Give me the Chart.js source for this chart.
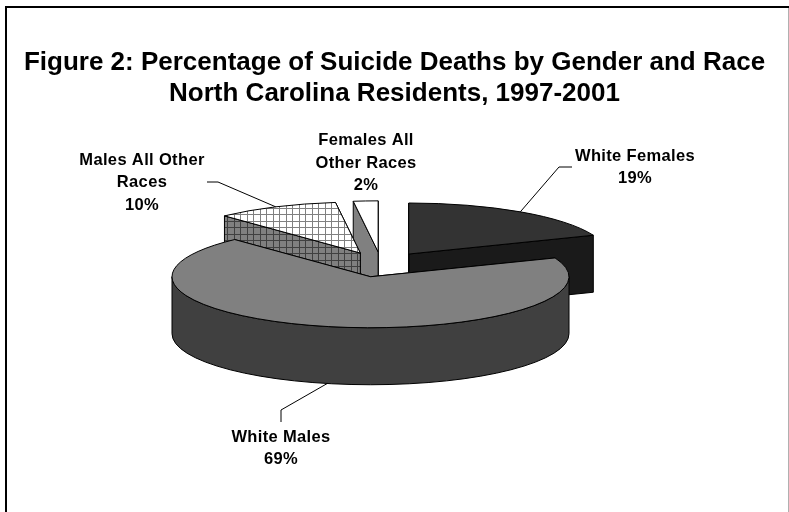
<!DOCTYPE html>
<html>
<head>
<meta charset="utf-8">
<title>Suicide Deaths by Gender and Race</title>
<script src="https://cdn.jsdelivr.net/npm/chart.js@4"></script>
<style>
  html, body { margin: 0; padding: 0; background: #fff; }
  canvas { display: block; }
</style>
</head>
<body>
<canvas id="stage" width="789" height="512"></canvas>
<script>
// data
const categories = ['White Females', 'White Males', 'Males All Other Races', 'Females All Other Races'];
const percents = [19, 69, 10, 2];
const titleLines = ['Figure 2: Percentage of Suicide Deaths by Gender and Race', 'North Carolina Residents, 1997-2001'];
const labelLines = [['White Females'], ['White Males'], ['Males All Other', 'Races'], ['Females All', 'Other Races']];

const FONT = '"Liberation Sans", Arial, sans-serif';

// small square grid used for the "other races" fills
function gridFill(paper, ink) {
  const tile = document.createElement('canvas');
  tile.width = 13;
  tile.height = 13;
  const c = tile.getContext('2d');
  c.fillStyle = paper;
  c.fillRect(0, 0, 13, 13);
  c.fillStyle = ink;
  [0, 6].forEach(function (p) {
    c.fillRect(p, 0, 1, 13);
    c.fillRect(0, p, 13, 1);
  });
  return document.createElement('canvas').getContext('2d').createPattern(tile, 'repeat');
}

const topFills = ['#333333', '#808080', gridFill('#ffffff', '#808080'), '#ffffff'];
const wallFills = ['#1a1a1a', '#404040', gridFill('#808080', '#404040'), '#808080'];

// tilted, exploded pie: reads the arcs the doughnut controller laid out and
// paints them as squashed ellipses with side walls
const pie3d = {
  id: 'pie3d',

  beforeDraw(chart, args, opts) {
    const ctx = chart.ctx;
    ctx.save();
    ctx.fillStyle = '#ffffff';
    ctx.fillRect(0, 0, chart.width, chart.height);
    // page frame, open at the bottom
    ctx.fillStyle = '#000000';
    ctx.fillRect(5, 6, chart.width - 5, 2);
    ctx.fillRect(5, 6, 2, chart.height - 6);
    ctx.fillStyle = '#b0b0b0';
    ctx.fillRect(chart.width - 1, 8, 1, chart.height - 8);
    ctx.restore();
  },

  beforeDatasetsDraw(chart, args, opts) {
    const ctx = chart.ctx;
    const arcs = chart.getDatasetMeta(0).data;

    const slices = arcs.map(function (arc, i) {
      const p = arc.getProps(['x', 'y', 'startAngle', 'endAngle', 'outerRadius']);
      const mid = (p.startAngle + p.endAngle) / 2;
      const r = p.outerRadius;
      return {
        i: i,
        start: p.startAngle,
        end: p.endAngle,
        mid: mid,
        r: r,
        ry: r * opts.tilt,
        cx: p.x + opts.shiftX + Math.cos(mid) * opts.explode,
        cy: p.y + Math.sin(mid) * opts.explode * opts.tilt,
        fill: arc.options.backgroundColor,
        wall: opts.walls[i],
        line: arc.options.borderColor,
        lineWidth: arc.options.borderWidth
      };
    });

    // back slices first
    const order = slices.slice().sort(function (a, b) { return a.cy - b.cy; });
    order.forEach(function (s) { drawSlice(ctx, s, opts.depth); });

    ctx.save();
    ctx.strokeStyle = '#000000';
    ctx.lineWidth = 1;
    slices.forEach(function (s) {
      const elbows = opts.leaders[s.i];
      if (!elbows) return;
      const front = Math.sin(s.mid) > 0;
      ctx.beginPath();
      ctx.moveTo(s.cx + Math.cos(s.mid) * s.r, s.cy + Math.sin(s.mid) * s.ry + (front ? opts.depth : 0));
      elbows.forEach(function (pt) { ctx.lineTo(pt[0], pt[1]); });
      ctx.stroke();
    });

    // labels
    ctx.fillStyle = '#000000';
    ctx.font = 'bold ' + opts.labelSize + 'px ' + FONT;
    ctx.letterSpacing = opts.labelSpacing;
    ctx.textAlign = 'center';
    ctx.textBaseline = 'middle';
    slices.forEach(function (s) {
      const spot = opts.labelSpots[s.i];
      const lines = labelLines[s.i].concat(percents[s.i] + '%');
      lines.forEach(function (text, n) {
        ctx.fillText(text, spot[0], spot[1] + n * opts.labelStep);
      });
    });
    ctx.restore();

    return false; // the flat arcs are not wanted
  }
};

function rimX(s, a) { return s.cx + Math.cos(a) * s.r; }
function rimY(s, a) { return s.cy + Math.sin(a) * s.ry; }

function drawSlice(ctx, s, depth) {
  ctx.save();
  ctx.strokeStyle = s.line;
  ctx.lineWidth = s.lineWidth;
  ctx.lineJoin = 'round';

  // cut faces
  [s.end, s.start].forEach(function (a) {
    ctx.beginPath();
    ctx.moveTo(s.cx, s.cy);
    ctx.lineTo(rimX(s, a), rimY(s, a));
    ctx.lineTo(rimX(s, a), rimY(s, a) + depth);
    ctx.lineTo(s.cx, s.cy + depth);
    ctx.closePath();
    ctx.fillStyle = s.wall;
    ctx.fill();
    ctx.stroke();
  });

  // outer wall, only the part facing the viewer
  const a = Math.max(s.start, 0);
  const b = Math.min(s.end, Math.PI);
  if (a < b) {
    ctx.beginPath();
    ctx.ellipse(s.cx, s.cy, s.r, s.ry, 0, a, b);
    ctx.ellipse(s.cx, s.cy + depth, s.r, s.ry, 0, b, a, true);
    ctx.closePath();
    ctx.fillStyle = s.wall;
    ctx.fill();
    ctx.stroke();
  }

  // top
  ctx.beginPath();
  ctx.moveTo(s.cx, s.cy);
  ctx.ellipse(s.cx, s.cy, s.r, s.ry, 0, s.start, s.end);
  ctx.closePath();
  ctx.fillStyle = s.fill;
  ctx.fill();
  ctx.stroke();
  ctx.restore();
}

new Chart(document.getElementById('stage'), {
  type: 'pie',
  data: {
    labels: categories,
    datasets: [{
      data: percents,
      backgroundColor: topFills,
      borderColor: '#000000',
      borderWidth: 1,
      radius: 198.5
    }]
  },
  options: {
    responsive: false,
    animation: false,
    events: [],
    layout: { padding: { bottom: 102 } },
    plugins: {
      legend: { display: false },
      tooltip: { enabled: false },
      title: {
        display: true,
        text: titleLines,
        color: '#000000',
        font: { family: FONT, size: 26, weight: 'bold', lineHeight: 1.19 },
        padding: { top: 47, bottom: 10 }
      },
      pie3d: {
        tilt: 0.257,
        depth: 57,
        explode: 49,
        shiftX: -13.3,
        walls: wallFills,
        labelSize: 16.5,
        labelSpacing: '0.35px',
        labelStep: 22.5,
        labelSpots: [[635, 156], [281, 437], [142, 160], [366, 140.5]],
        leaders: [[[559, 167], [572, 167]], [[281, 410], [281, 422]], [[218, 182], [207, 182]], null]
      }
    }
  },
  plugins: [pie3d]
});
</script>
</body>
</html>
